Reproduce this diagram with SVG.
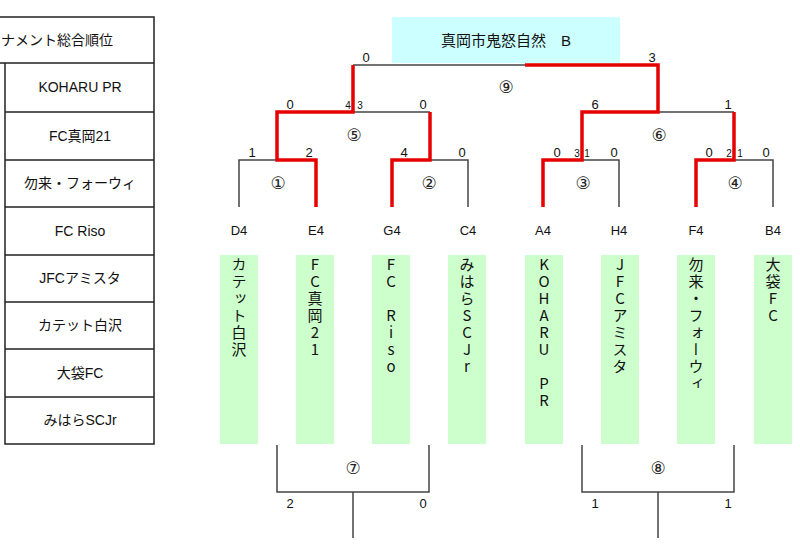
<svg xmlns="http://www.w3.org/2000/svg" width="800" height="546" viewBox="0 0 800 546">
<style>
.t{font-family:"Liberation Sans","Noto Sans CJK JP",sans-serif;fill:#111;text-anchor:middle}
.tab{font-size:14px}
.lbl{font-size:13px}
.sc{font-size:13px}
.ss{font-size:10px}
.cir{font-family:"DejaVu Sans","Noto Sans CJK JP",sans-serif;font-size:17px;fill:#222;text-anchor:middle}
.grid{stroke:#222;stroke-width:1.5;fill:none}
.bk{stroke:#444;stroke-width:1.5;fill:none}
.rd{stroke:#e60000;stroke-width:3.5;fill:none;stroke-linejoin:miter}
.col{fill:#ccffcc}
.vt{font-family:"Noto Sans CJK JP",sans-serif;font-size:15px;fill:#111;writing-mode:vertical-rl;text-orientation:upright;letter-spacing:2px}
</style>
<rect width="800" height="546" fill="#fff"/>
<g id="ranking-table">
<path class="grid" d="M0,17H154V444H5V63M0,63H154M5,112H154M5,160H154M5,207H154M5,255H154M5,302H154M5,349H154M5,397H154"/>
<text class="t tab" x="57" y="45">ナメント総合順位</text>
<text class="t tab" x="80" y="92">KOHARU PR</text>
<text class="t tab" x="80" y="141">FC真岡21</text>
<text class="t tab" x="80" y="188">勿来・フォーウィ</text>
<text class="t tab" x="80" y="236">FC Riso</text>
<text class="t tab" x="80" y="283">JFCアミスタ</text>
<text class="t tab" x="80" y="330">カテット白沢</text>
<text class="t tab" x="80" y="378">大袋FC</text>
<text class="t tab" x="80" y="425">みはらSCJr</text>
</g>
<g id="title">
<rect x="392" y="17" width="228" height="46" fill="#ccffff"/>
<text class="t" style="font-size:15px" x="506" y="46">真岡市鬼怒自然　B</text>
</g>
<g id="connectors">
<path class="bk" d="M353,65H525M353,112H430M658,112H734M239,207V160H277M430,160H468V207M582,160H619V207M734,160H773V207"/>
<path class="bk" d="M277,445V492H429V445M353,492V538M582,445V492H734V445M658,492V538"/>
<path class="rd" d="M353,65V112H277V160H316V207M430,112V160H392V207M525,65H658V112H582V160H543V207M734,112V160H696V207"/>
</g>
<g id="scores">
<text class="t sc" x="366" y="62">0</text>
<text class="t sc" x="652" y="62">3</text>
<text class="t sc" x="290" y="109">0</text>
<text class="t ss" x="348" y="109">4</text>
<text class="t ss" x="360" y="109">3</text>
<text class="t sc" x="423" y="109">0</text>
<text class="t sc" x="595" y="109">6</text>
<text class="t sc" x="728" y="109">1</text>
<text class="t sc" x="252" y="157">1</text>
<text class="t sc" x="309" y="157">2</text>
<text class="t sc" x="404" y="157">4</text>
<text class="t sc" x="462" y="157">0</text>
<text class="t sc" x="557" y="157">0</text>
<text class="t ss" x="577" y="157">3</text>
<text class="t ss" x="587" y="157">1</text>
<text class="t sc" x="614" y="157">0</text>
<text class="t sc" x="709" y="157">0</text>
<text class="t ss" x="729" y="157">2</text>
<text class="t ss" x="740" y="157">1</text>
<text class="t sc" x="766" y="157">0</text>
<text class="t sc" x="290" y="508">2</text>
<text class="t sc" x="423" y="508">0</text>
<text class="t sc" x="595" y="508">1</text>
<text class="t sc" x="728" y="508">1</text>
</g>
<g id="match-numbers">
<text class="cir" x="278" y="189">①</text>
<text class="cir" x="429" y="189">②</text>
<text class="cir" x="583" y="189">③</text>
<text class="cir" x="735" y="189">④</text>
<text class="cir" x="354" y="141">⑤</text>
<text class="cir" x="659" y="141">⑥</text>
<text class="cir" x="353" y="474">⑦</text>
<text class="cir" x="658" y="474">⑧</text>
<text class="cir" x="506" y="93">⑨</text>
</g>
<g id="seeds">
<text class="t lbl" x="239" y="235">D4</text>
<text class="t lbl" x="316" y="235">E4</text>
<text class="t lbl" x="392" y="235">G4</text>
<text class="t lbl" x="468" y="235">C4</text>
<text class="t lbl" x="543" y="235">A4</text>
<text class="t lbl" x="619" y="235">H4</text>
<text class="t lbl" x="696" y="235">F4</text>
<text class="t lbl" x="773" y="235">B4</text>
</g>
<g id="team-D4"><rect class="col" x="220" y="255" width="38" height="189"/><text class="vt" x="239" y="257">カテット白沢</text></g>
<g id="team-E4"><rect class="col" x="296" y="255" width="38" height="189"/><text class="vt" x="315" y="257">FC真岡21</text></g>
<g id="team-G4"><rect class="col" x="372" y="255" width="38" height="189"/><text class="vt" x="391" y="257">FC Riso</text></g>
<g id="team-C4"><rect class="col" x="448" y="255" width="38" height="189"/><text class="vt" x="467" y="257">みはらSCJr</text></g>
<g id="team-A4"><rect class="col" x="525" y="255" width="38" height="189"/><text class="vt" x="544" y="257">KOHARU PR</text></g>
<g id="team-H4"><rect class="col" x="601" y="255" width="38" height="189"/><text class="vt" x="620" y="257">JFCアミスタ</text></g>
<g id="team-F4"><rect class="col" x="677" y="255" width="38" height="189"/><text class="vt" x="696" y="257">勿来・フォーウィ</text></g>
<g id="team-B4"><rect class="col" x="754" y="255" width="38" height="189"/><text class="vt" x="773" y="257">大袋FC</text></g>
</svg>
